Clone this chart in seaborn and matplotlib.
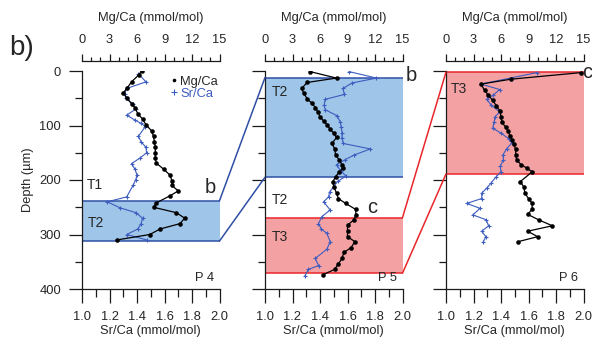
import matplotlib
matplotlib.use("Agg")
import matplotlib.pyplot as plt
from matplotlib.ticker import MultipleLocator, FormatStrFormatter
from matplotlib.patches import ConnectionPatch
from matplotlib.lines import Line2D
import seaborn as sns
import pandas as pd

sns.set_style("ticks")
plt.rcParams['font.family'] = ['Liberation Sans', 'DejaVu Sans']

# ---------------- data ----------------
p4_mg_depth = [0, 7, 20, 32, 40, 50, 60, 68, 79, 88, 99, 110, 120, 130, 140, 150, 160, 169,
               180, 191, 201, 210, 220, 229, 242, 250, 260, 270, 280, 290, 300, 310]
p4_mg = [6.5, 6.2, 5.4, 4.9, 4.5, 4.9, 5.4, 5.8, 6.1, 6.6, 7.0, 7.6, 7.8, 7.9, 8.0, 8.0, 8.0, 8.1,
         8.9, 9.6, 9.8, 9.8, 10.5, 9.6, 8.1, 7.8, 10.3, 11.2, 10.7, 8.5, 7.4, 3.8]
p4_sr_depth = [5, 20, 32, 42, 50, 60, 70, 81, 90, 96, 102, 120, 130, 140, 150, 160, 170, 180,
               191, 200, 209, 231, 240, 251, 260, 270, 280, 290, 300, 310]
p4_sr = [1.41, 1.465, 1.325, 1.31, 1.32, 1.37, 1.39, 1.325, 1.385, 1.43, 1.46, 1.41, 1.43, 1.465,
         1.47, 1.42, 1.36, 1.385, 1.40, 1.39, 1.373, 1.325, 1.184, 1.276, 1.393, 1.44, 1.43, 1.405,
         1.325, 1.47]

p5_mg_depth = [1, 13, 21, 32, 40, 51, 59, 67, 76, 84, 92, 99, 107, 114, 122, 133, 143, 154, 163,
               172, 178, 185, 194, 203, 212, 224, 234, 243, 254, 264, 273, 283, 294, 304, 313, 324,
               333, 344, 354, 364, 374]
p5_mg = [4.9, 7.8, 4.6, 4.0, 4.2, 4.6, 5.1, 5.5, 5.8, 6.0, 6.4, 6.8, 7.1, 7.5, 7.8, 7.3, 7.6, 7.7,
         8.1, 8.4, 8.5, 8.1, 7.7, 7.4, 7.5, 7.8, 8.0, 8.8, 9.9, 9.9, 9.7, 9.0, 9.0, 9.0, 9.8, 9.4,
         8.6, 8.4, 8.0, 7.6, 6.3]
p5_sr_depth = [1, 13, 22, 32, 43, 52, 63, 71, 82, 93, 103, 113, 123, 133, 143, 154, 163, 172, 183,
               193, 202, 212, 222, 231, 240, 255, 267, 280, 290, 298, 313, 327, 344, 357, 364, 376]
p5_sr = [1.61, 1.81, 1.633, 1.567, 1.577, 1.438, 1.43, 1.438, 1.523, 1.547, 1.555, 1.56, 1.56,
         1.57, 1.766, 1.65, 1.58, 1.52, 1.55, 1.59, 1.53, 1.50, 1.47, 1.462, 1.426, 1.474, 1.414,
         1.389, 1.41, 1.45, 1.474, 1.45, 1.365, 1.39, 1.316, 1.29]

p6_mg_depth = [3, 15, 24, 35, 44, 54, 64, 74, 84, 94, 103, 111, 120, 127, 134, 144, 154, 163, 172,
               178, 185, 203, 213, 224, 234, 243, 254, 263, 273, 284, 294, 304, 313]
p6_mg = [14.7, 7.1, 3.8, 4.2, 4.6, 5.1, 5.5, 5.9, 6.0, 6.1, 6.5, 6.8, 7.0, 7.2, 7.4, 7.6, 7.6, 7.7,
         8.2, 8.8, 9.4, 8.1, 8.5, 8.6, 9.0, 9.4, 9.4, 8.9, 10.1, 11.6, 8.9, 10.0, 7.9]
p6_sr_depth = [3, 24, 34, 44, 52, 63, 75, 84, 94, 105, 114, 124, 132, 143, 154, 163, 175, 185, 194,
               206, 214, 224, 234, 243, 252, 264, 273, 284, 294, 304, 314]
p6_sr = [1.66, 1.255, 1.39, 1.345, 1.297, 1.33, 1.39, 1.357, 1.35, 1.34, 1.40, 1.455, 1.48, 1.44,
         1.414, 1.418, 1.394, 1.40, 1.365, 1.326, 1.30, 1.26, 1.26, 1.15, 1.248, 1.195, 1.292,
         1.31, 1.26, 1.29, 1.27]

panel_names = ["P 4", "P 5", "P 6"]
mg_ticks = [0, 3, 6, 9, 12, 15]
sr_ticks = [1.0, 1.2, 1.4, 1.6, 1.8, 2.0]
depth_ticks = [0, 100, 200, 300, 400]

# bands: (top, bottom, kind)
p4_bands = [(238, 312, "blue")]
p5_bands = [(12, 195, "blue"), (269, 371, "red")]
p6_bands = [(2, 189, "red")]

# ---------------- style ----------------
BLUE_LINE = "#3d5cbf"
BAND_FILL = {"blue": "#9fc5e8", "red": "#f4a1a3"}
BAND_EDGE = {"blue": "#2f4fa6", "red": "#e8262b"}
AX_COL = "#1a1a1a"
FS = 9.3

W, H = 592, 337
fig = plt.figure(figsize=(W / 100, H / 100), dpi=100)

lefts = [82, 265, 446]
ax_w = 137.5
ax_top_px, ax_bot_px = 71, 289

panels = [
    (p4_mg_depth, p4_mg, p4_sr_depth, p4_sr, p4_bands),
    (p5_mg_depth, p5_mg, p5_sr_depth, p5_sr, p5_bands),
    (p6_mg_depth, p6_mg, p6_sr_depth, p6_sr, p6_bands),
]

axes = []
for i, (mgd, mg, srd, sr, bands) in enumerate(panels):
    ax = fig.add_axes([lefts[i] / W, (H - ax_bot_px) / H, ax_w / W, (ax_bot_px - ax_top_px) / H])
    axt = ax.twiny()
    axes.append(ax)

    # bands
    for (t, b, kind) in bands:
        ax.axhspan(t, b, facecolor=BAND_FILL[kind], edgecolor="none", lw=0, zorder=0.5)
        ax.axhline(t, color=BAND_EDGE[kind], lw=1.1, zorder=0.6)
        ax.axhline(b, color=BAND_EDGE[kind], lw=1.1, zorder=0.6)

    df_sr = pd.DataFrame({"sr": sr, "depth": srd})
    df_mg = pd.DataFrame({"mg": mg, "depth": mgd})
    sns.lineplot(data=df_sr, x="sr", y="depth", sort=False, estimator=None, ax=ax,
                 color=BLUE_LINE, lw=0.8, marker="+", markersize=3.2, mew=0.8,
                 markeredgecolor=BLUE_LINE, zorder=3)
    sns.lineplot(data=df_mg, x="mg", y="depth", sort=False, estimator=None, ax=axt,
                 color="black", lw=0.9, marker="o", markersize=3.3, mew=0,
                 markerfacecolor="black", zorder=4)

    ax.set_xlim(1.0, 2.0)
    axt.set_xlim(0, 15)
    ax.set_ylim(400, 0)

    # spines
    for s in ["top", "right"]:
        ax.spines[s].set_visible(False)
    for s in ["left", "right", "bottom"]:
        axt.spines[s].set_visible(False)
    axt.spines["top"].set_position(("outward", 7.2))
    for a in (ax, axt):
        for s in a.spines.values():
            s.set_color(AX_COL)
            s.set_linewidth(0.9)

    # bottom Sr/Ca axis
    ax.set_xticks(sr_ticks)
    ax.xaxis.set_minor_locator(MultipleLocator(0.1))
    ax.xaxis.set_major_formatter(FormatStrFormatter("%.1f"))
    ax.tick_params(axis="x", which="major", length=10, width=0.9, pad=5.5, labelsize=FS, color=AX_COL)
    ax.tick_params(axis="x", which="minor", length=5.8, width=0.9, color=AX_COL)
    ax.set_xlabel("Sr/Ca (mmol/mol)", fontsize=FS, labelpad=1.5)

    # top Mg/Ca axis
    axt.set_xticks(mg_ticks)
    axt.xaxis.set_minor_locator(MultipleLocator(1))
    axt.tick_params(axis="x", which="major", length=5, width=0.9, pad=6, labelsize=FS, color=AX_COL)
    axt.tick_params(axis="x", which="minor", length=2.6, width=0.9, color=AX_COL)
    axt.set_xlabel("Mg/Ca (mmol/mol)", fontsize=FS, labelpad=9)
    axt.set_ylabel("")

    # depth axis
    ax.set_yticks(depth_ticks)
    ax.yaxis.set_minor_locator(MultipleLocator(50))
    ax.tick_params(axis="y", which="major", length=9.5, width=0.9, pad=5.5, labelsize=FS, color=AX_COL)
    ax.tick_params(axis="y", which="minor", length=5, width=0.9, color=AX_COL)
    if i == 0:
        ax.set_ylabel("Depth (\u00b5m)", fontsize=FS, labelpad=4)
    else:
        ax.set_ylabel("")
        ax.tick_params(axis="y", labelleft=False)

    ax.text(1.89, 379, panel_names[i], fontsize=FS, ha="center", va="center")

ax1, ax2, ax3 = axes

# annotations
TFS = 10
ax1.text(1.095, 210, "T1", fontsize=TFS, ha="center", va="center")
ax1.text(1.10, 278, "T2", fontsize=TFS, ha="center", va="center")
ax1.text(1.93, 214, "b", fontsize=14.5, ha="center", va="center")

ax2.text(1.107, 38, "T2", fontsize=TFS, ha="center", va="center")
ax2.text(1.107, 237, "T2", fontsize=TFS, ha="center", va="center")
ax2.text(1.107, 305, "T3", fontsize=TFS, ha="center", va="center")
ax2.text(1.78, 250, "c", fontsize=14.5, ha="center", va="center")
ax2.text(2.065, 8, "b", fontsize=14.5, ha="center", va="center", clip_on=False)

ax3.text(1.093, 33, "T3", fontsize=TFS, ha="center", va="center")
ax3.text(2.025, 2, "c", fontsize=14.5, ha="center", va="center", clip_on=False)

fig.text(22 / W, 1 - 48 / H, "b)", fontsize=20, ha="center", va="center")

# legend
handles = [Line2D([], [], marker="o", color="black", ls="none", markersize=2.6, mew=0),
           Line2D([], [], marker="+", color=BLUE_LINE, ls="none", markersize=4.5, mew=0.8)]
leg = ax1.legend(handles, ["Mg/Ca", "Sr/Ca"], loc="upper left",
                 bbox_to_anchor=(169.0 / W, 1 - 75.5 / H), bbox_transform=fig.transFigure,
                 frameon=False, fontsize=FS, handlelength=0.7, handletextpad=0.15,
                 borderpad=0, borderaxespad=0, labelspacing=0.0)
leg.get_texts()[1].set_color(BLUE_LINE)

# connecting lines
def connect(axa, ya, axb, yb, kind):
    con = ConnectionPatch(xyA=(2.0, ya), coordsA=axa.transData,
                          xyB=(1.0, yb), coordsB=axb.transData,
                          color=BAND_EDGE[kind], lw=1.1)
    fig.add_artist(con)

connect(ax1, 238, ax2, 12, "blue")
connect(ax1, 312, ax2, 195, "blue")
connect(ax2, 269, ax3, 2, "red")
connect(ax2, 371, ax3, 189, "red")

fig.savefig("out.png", dpi=100)
